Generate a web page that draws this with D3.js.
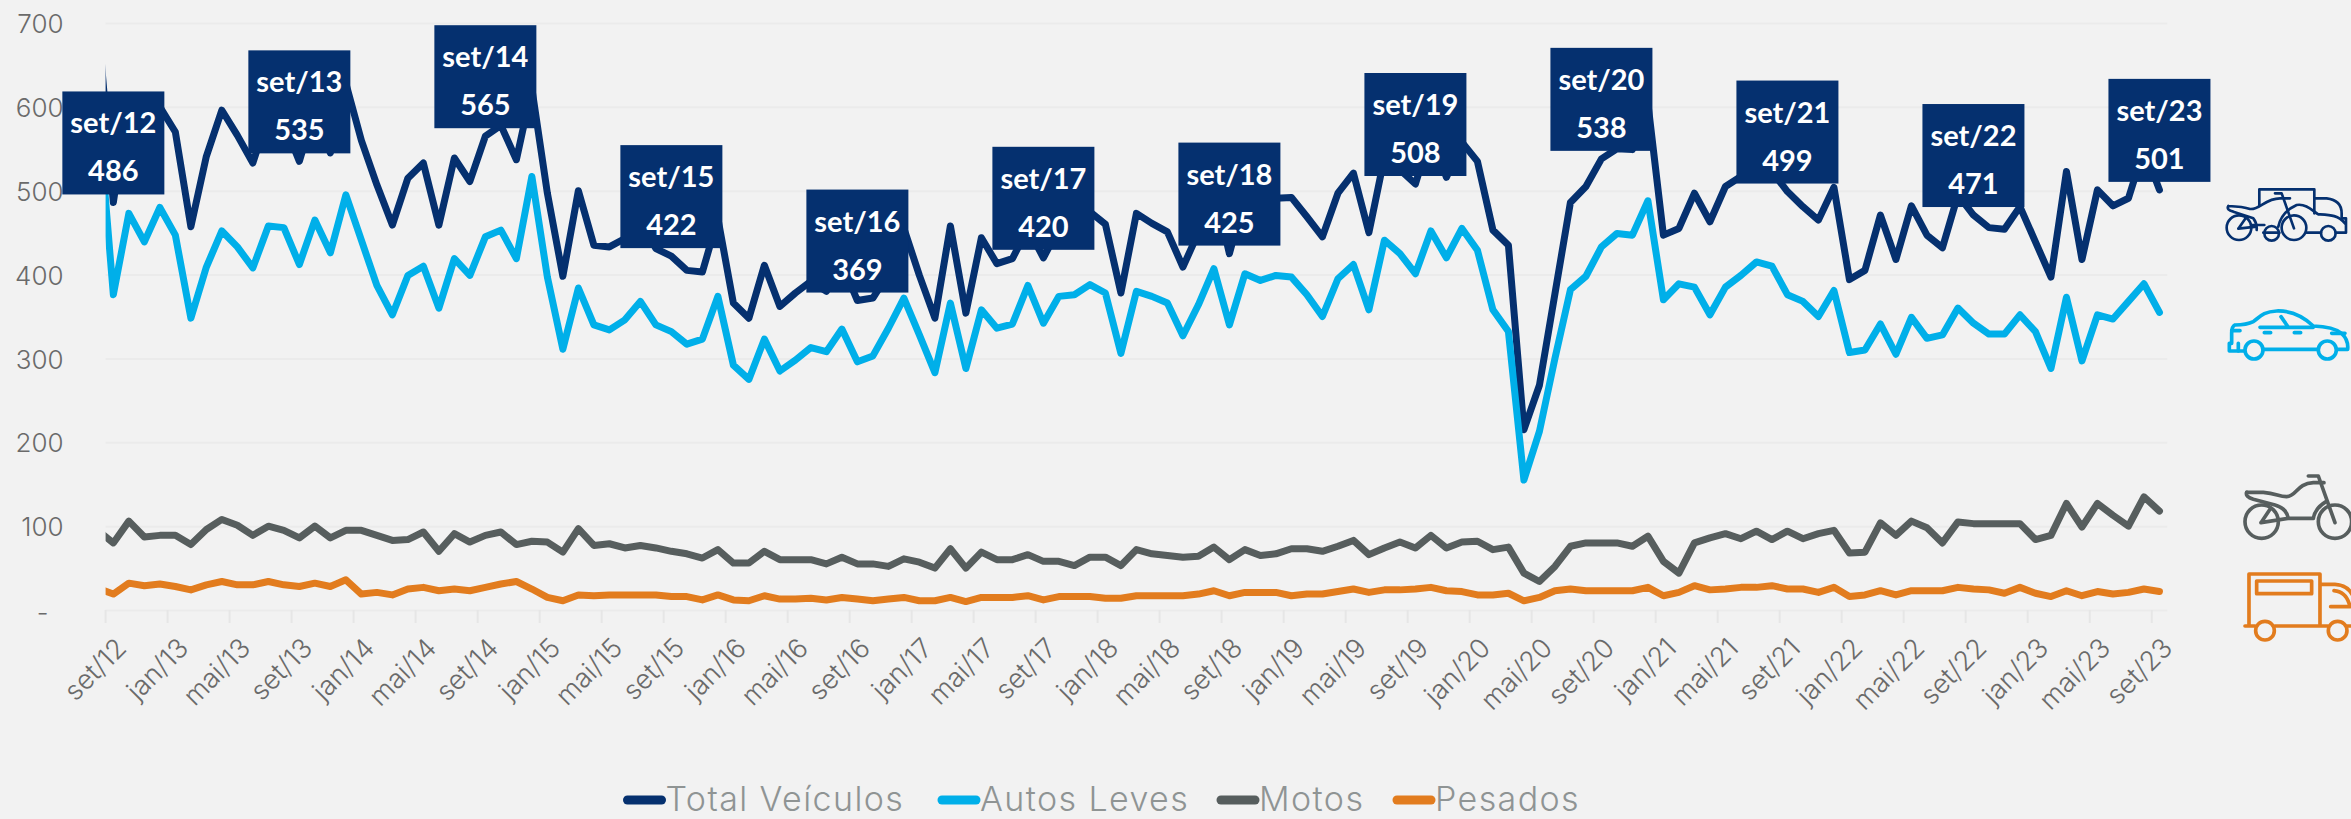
<!DOCTYPE html>
<html>
<head>
<meta charset="utf-8">
<script src="https://cdn.jsdelivr.net/npm/d3@7"></script>
<style>
  html, body { margin: 0; padding: 0; background: #f2f2f2; }
  svg { display: block; font-family: Lato, "Open Sans", sans-serif; }
</style>
</head>
<body>
<svg id="chart"></svg>
<script>
const width = 2351;
const height = 819;

const monthNames = ["jan", "fev", "mar", "abr", "mai", "jun", "jul", "ago", "set", "out", "nov", "dez"];
// ago/12 sits left of the axis, the chart clips it (only its falling segment shows)
const months = d3.range(7, 7 + 134).map((m) => `${monthNames[m % 12]}/${12 + Math.floor(m / 12)}`);

const totalVeiculos = [702, 486, 611, 560, 600, 570, 457, 541, 596, 566, 533, 590, 581, 535, 597, 545, 628, 560, 507, 459, 515, 533, 459, 539, 511, 565, 578, 537, 622, 497, 398, 500, 435, 433, 443, 465, 431, 422, 405, 403, 467, 366, 348, 411, 362, 378, 392, 380, 413, 369, 372, 401, 455, 399, 348, 458, 354, 444, 413, 419, 455, 420, 455, 460, 475, 460, 378, 473, 461, 451, 409, 450, 505, 425, 493, 480, 491, 492, 469, 445, 497, 521, 450, 540, 525, 508, 568, 516, 558, 535, 453, 435, 215, 268, 377, 486, 505, 538, 550, 549, 604, 447, 455, 497, 463, 505, 517, 534, 523, 499, 481, 465, 504, 394, 405, 471, 418, 482, 447, 432, 495, 471, 456, 454, 481, 439, 397, 523, 418, 501, 482, 491, 550, 501];
const autosLeves = [600, 376, 473, 439, 480, 447, 348, 409, 452, 433, 408, 458, 456, 412, 465, 426, 495, 441, 387, 352, 399, 410, 360, 419, 399, 445, 453, 419, 517, 397, 311, 384, 340, 334, 346, 368, 340, 332, 317, 323, 374, 292, 275, 323, 285, 298, 313, 308, 335, 296, 303, 336, 372, 328, 283, 366, 288, 358, 336, 341, 387, 342, 374, 376, 388, 378, 306, 380, 374, 366, 327, 364, 407, 340, 401, 393, 399, 397, 376, 350, 395, 412, 358, 441, 425, 401, 452, 420, 455, 429, 358, 332, 155, 213, 300, 382, 398, 433, 449, 447, 488, 370, 389, 385, 352, 385, 399, 415, 410, 376, 368, 350, 381, 307, 310, 341, 305, 349, 324, 328, 360, 342, 329, 329, 352, 332, 288, 373, 297, 352, 347, 368, 389, 355];
const motos = [95, 80, 106, 87, 89, 89, 78, 96, 108, 101, 89, 100, 95, 86, 100, 86, 95, 95, 89, 83, 84, 93, 70, 91, 81, 89, 93, 78, 82, 81, 69, 97, 77, 79, 74, 77, 74, 70, 67, 62, 72, 56, 56, 70, 60, 60, 60, 55, 63, 55, 55, 52, 61, 57, 50, 73, 50, 69, 60, 60, 66, 58, 58, 53, 63, 63, 53, 72, 67, 65, 63, 64, 75, 60, 72, 65, 67, 73, 73, 70, 76, 83, 66, 74, 81, 74, 89, 74, 81, 82, 72, 75, 44, 34, 52, 76, 80, 80, 80, 76, 88, 58, 44, 80, 86, 91, 85, 94, 84, 94, 85, 91, 95, 68, 69, 104, 89, 106, 98, 80, 105, 103, 103, 103, 103, 84, 89, 127, 99, 127, 113, 100, 135, 118];
const pesados = [26, 19, 32, 29, 31, 28, 24, 30, 34, 30, 30, 34, 30, 28, 32, 28, 36, 19, 21, 18, 25, 27, 23, 25, 23, 27, 31, 34, 25, 15, 11, 18, 17, 18, 18, 18, 18, 16, 16, 12, 18, 12, 11, 17, 13, 13, 14, 12, 15, 13, 11, 13, 15, 11, 11, 15, 10, 15, 15, 15, 17, 12, 16, 16, 16, 14, 14, 17, 17, 17, 17, 19, 23, 17, 21, 21, 21, 17, 19, 19, 22, 25, 21, 24, 24, 25, 27, 23, 22, 18, 18, 20, 11, 15, 23, 25, 23, 23, 23, 23, 27, 17, 21, 29, 24, 25, 27, 27, 29, 25, 25, 21, 27, 16, 18, 23, 18, 23, 23, 23, 27, 25, 24, 20, 27, 20, 16, 23, 17, 22, 19, 21, 25, 22];

const seriesNames = ["Total Veículos", "Autos Leves", "Motos", "Pesados"];
const seriesColors = ["#05306f", "#00afe9", "#575e5e", "#e27c1e"];
const seriesValues = [totalVeiculos, autosLeves, motos, pesados];

const labelMonths = ["set/12", "set/13", "set/14", "set/15", "set/16", "set/17", "set/18", "set/19", "set/20", "set/21", "set/22", "set/23"];
const labelValues = [486, 535, 565, 422, 369, 420, 425, 508, 538, 499, 471, 501];
const yTicks = [0, 100, 200, 300, 400, 500, 600, 700];

const left = 105.6;
const right = 2167.2;
const bandStep = (right - left) / 133;

const x = d3.scaleBand(months, [left - bandStep, right]);
const y = d3.scaleLinear([0, 700], [610, 23]);
const xc = (m) => x(m) + x.bandwidth() / 2;

const svg = d3.select("#chart").attr("width", width).attr("height", height);
svg.append("rect").attr("width", width).attr("height", height).attr("fill", "#f2f2f2");

svg.append("clipPath").attr("id", "plot")
  .append("rect").attr("x", left).attr("y", 0).attr("width", right - left).attr("height", height);

// y axis + grid
svg.append("g")
  .attr("transform", `translate(${left},0)`)
  .call(d3.axisLeft(y).tickValues(yTicks).tickSize(0).tickPadding(42).tickFormat((d) => (d === 0 ? "-" : d)))
  .call((g) => g.select(".domain").remove())
  .call((g) => g.selectAll(".tick line").clone().attr("x2", right - left).attr("stroke", "#ebebeb").attr("stroke-width", 2))
  .call((g) => g.selectAll(".tick text")
    .attr("fill", "#6a6a6a").attr("font-family", "Inter").attr("font-size", 26).attr("font-weight", 300).attr("dy", "0.37em"))
  .call((g) => g.selectAll(".tick text").filter((d) => d === 0).attr("dx", -15).attr("dy", "0.45em"));

// x axis, tick marks sit on the band edges
const xTicks = months.filter((m, i) => i >= 1 && (i - 1) % 4 === 0);
svg.append("g")
  .attr("transform", "translate(0,610)")
  .call(d3.axisBottom(x).tickValues(xTicks).tickSize(13).tickSizeOuter(0))
  .call((g) => g.select(".domain").remove())
  .call((g) => g.selectAll(".tick line")
    .attr("x1", -bandStep / 2).attr("x2", -bandStep / 2).attr("stroke", "#e6e6e6").attr("stroke-width", 2))
  .call((g) => g.selectAll(".tick text")
    .attr("fill", "#6a6a6a").attr("font-family", "Inter").attr("font-size", 27).attr("font-weight", 300)
    .attr("text-anchor", "end")
    .attr("transform", "translate(8,33) rotate(-45)")
    .attr("y", 0).attr("dy", "0.35em"));

// lines
const line = d3.line().x((d, i) => xc(months[i])).y((d) => y(d));
svg.append("g").attr("clip-path", "url(#plot)")
  .selectAll("path").data(seriesValues).join("path")
  .attr("d", line)
  .attr("fill", "none")
  .attr("stroke", (d, i) => seriesColors[i])
  .attr("stroke-width", 7)
  .attr("stroke-linejoin", "round")
  .attr("stroke-linecap", "round");

// september labels
const label = svg.append("g").selectAll("g").data(labelMonths).join("g")
  .attr("transform", (d, i) => `translate(${xc(d)},${y(labelValues[i]) - 8})`);

const boxText = label.append("g").attr("fill", "#fff").attr("font-size", 29).attr("font-weight", 700).attr("text-anchor", "middle");
boxText.append("text").attr("y", -61).text((d) => d);
boxText.append("text").attr("y", -13).text((d, i) => labelValues[i]);

label.insert("rect", "g")
  .attr("x", -51).attr("width", 102).attr("y", -103).attr("height", 103)
  .attr("fill", "#05306f");

// legend
const legendLineX = [623.5, 938, 1217, 1393];
const legend = svg.append("g").selectAll("g").data(seriesNames).join("g")
  .attr("transform", (d, i) => `translate(${legendLineX[i]},800)`);
legend.append("line").attr("x1", 4).attr("x2", 38)
  .attr("stroke", (d, i) => seriesColors[i]).attr("stroke-width", 9).attr("stroke-linecap", "round");
legend.append("text").attr("x", 42).attr("y", 11)
  .attr("fill", "#8f9494").attr("font-family", "Inter").attr("font-size", 34).attr("font-weight", 300)
  .attr("letter-spacing", 1.4).text((d) => d);

// vehicle icons, traced in zoomed units
const iconCar = [
  "M340,538H503M560,538H593Q596,510 575,490Q550,470 490,468C450,430 410,422 380,423C340,425 330,440 310,455C290,465 270,465 255,465Q245,470 245,490V520H238V543H283",
  "M330,472H490M393,440L415,472M343,488H362M433,488H452M245,482H270M545,490H585M265,520V543"
];
const iconCombo = [
  "M328,108V58H493V130M493,85H530Q575,90 575,130V145H588V188H557M470,188H513M303,165H343M388,188H340",
  "M235,108Q280,110 300,117C330,120 345,85 390,85H420M375,70H395L432,175M235,108Q228,120 250,125L310,145Q322,160 320,180M265,176L290,140M265,176L320,170",
  "M385,170Q395,125 440,105C470,100 490,125 505,133C540,135 565,135 585,160"
];
const iconMoto = [
  "M290,127L340,127C380,130 385,140 410,140C440,140 440,100 490,98H522M475,78H505L555,218",
  "M290,127Q285,140 310,148L375,165Q410,175 415,205H490Q495,175 528,155M333,218L360,178M333,218L415,205"
];
const iconTruck = [
  "M297,522V372H510V522M285,528H315M375,528H533M592,528H603",
  "M512,403H555Q595,405 610,440M552,422Q590,425 600,470H542"
];

const icons = svg.append("g").attr("fill", "none").attr("stroke-linecap", "round").attr("stroke-linejoin", "round");

const car = icons.append("g").attr("transform", "translate(2150,170) scale(0.3333)").attr("stroke", seriesColors[1]).attr("stroke-width", 11);
car.selectAll("path").data(iconCar).join("path").attr("d", (d) => d);
car.selectAll("circle").data([312, 532]).join("circle").attr("cx", (d) => d).attr("cy", 540).attr("r", 27);

const combo = icons.append("g").attr("transform", "translate(2150,170) scale(0.3333)").attr("stroke", seriesColors[0]).attr("stroke-width", 8);
combo.selectAll("path").data(iconCombo).join("path").attr("d", (d) => d);
combo.selectAll("circle").data([[267, 173, 37], [432, 173, 37], [365, 190, 22], [535, 190, 22]]).join("circle")
  .attr("cx", (d) => d[0]).attr("cy", (d) => d[1]).attr("r", (d) => d[2]);

const moto = icons.append("g").attr("transform", "translate(2150,450) scale(0.3333)").attr("stroke", seriesColors[2]).attr("stroke-width", 11);
moto.selectAll("path").data(iconMoto).join("path").attr("d", (d) => d);
moto.selectAll("circle").data([335, 555]).join("circle").attr("cx", (d) => d).attr("cy", 215).attr("r", 50);

const truck = icons.append("g").attr("transform", "translate(2150,450) scale(0.3333)").attr("stroke", seriesColors[3]).attr("stroke-width", 11);
truck.selectAll("path").data(iconTruck).join("path").attr("d", (d) => d);
truck.append("rect").attr("x", 320).attr("y", 393).attr("width", 165).attr("height", 38);
truck.selectAll("circle").data([345, 563]).join("circle").attr("cx", (d) => d).attr("cy", 542).attr("r", 28);
</script>
</body>
</html>
